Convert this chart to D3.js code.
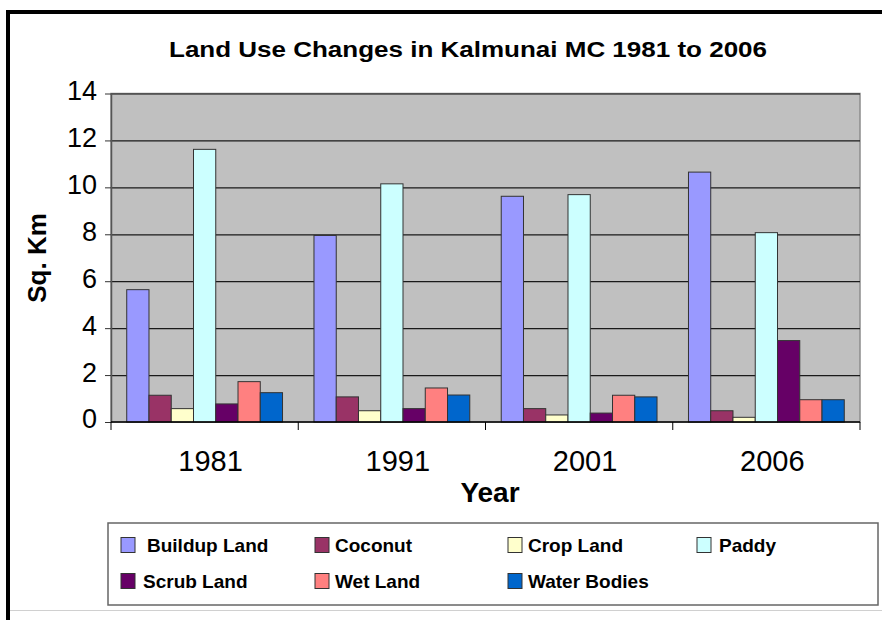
<!DOCTYPE html>
<html>
<head>
<meta charset="utf-8">
<script src="https://cdn.jsdelivr.net/npm/d3@7"></script>
<style>
  body { margin: 0; background: #fff; }
  svg { display: block; font-family: 'Liberation Sans', Arial, sans-serif; }
</style>
</head>
<body>
<figure style="margin:0"></figure>
<script>
const width = 882
const height = 620

// data (sq. km)
const years = ['1981', '1991', '2001', '2006']
const series = ['Buildup Land', 'Coconut', 'Crop Land', 'Paddy', 'Scrub Land', 'Wet Land', 'Water Bodies']
const colors = ['#9999ff', '#993366', '#ffffcc', '#ccffff', '#660066', '#ff8080', '#0066cc']
const buildup = [5.64, 7.95, 9.62, 10.65]
const coconut = [1.14, 1.07, 0.57, 0.48]
const cropLand = [0.57, 0.48, 0.30, 0.20]
const paddy = [11.62, 10.15, 9.69, 8.07]
const scrubLand = [0.77, 0.57, 0.38, 3.47]
const wetLand = [1.72, 1.45, 1.14, 0.95]
const waterBodies = [1.25, 1.15, 1.07, 0.95]
const yTicks = [0, 2, 4, 6, 8, 10, 12, 14]

const values = [buildup, coconut, cropLand, paddy, scrubLand, wetLand, waterBodies]
const rows = years.map((y, i) => ({
  year: y,
  bars: series.map((s, j) => ({ key: s, value: values[j][i], color: colors[j] }))
}))

const plot = { left: 111, right: 860, top: 93.5, bottom: 422 }

const svg = d3.select('figure').append('svg')
  .attr('width', width)
  .attr('height', height)

// outer frame
svg.append('rect')
  .attr('x', 8).attr('y', 12)
  .attr('width', 900).attr('height', 700)
  .attr('fill', 'none')
  .attr('stroke', '#000')
  .attr('stroke-width', 4)

svg.append('line')
  .attr('x1', 10).attr('x2', width)
  .attr('y1', 610.5).attr('y2', 610.5)
  .attr('stroke', '#d0d0d0')

svg.append('text')
  .attr('x', 468).attr('y', 57)
  .attr('text-anchor', 'middle')
  .attr('font-size', 22)
  .attr('font-weight', 'bold')
  .attr('textLength', 598)
  .attr('lengthAdjust', 'spacingAndGlyphs')
  .text('Land Use Changes in Kalmunai MC 1981 to 2006')

const x0 = d3.scaleBand()
  .domain(years)
  .range([plot.left, plot.right])
  .paddingInner(0)
  .paddingOuter(0)

const x1 = d3.scaleBand()
  .domain(series)
  .range([x0.bandwidth() * 0.084, x0.bandwidth() * 0.916])

const y = d3.scaleLinear()
  .domain([0, 14])
  .range([plot.bottom, plot.top])

// plot area
svg.append('rect')
  .attr('x', plot.left).attr('y', plot.top)
  .attr('width', plot.right - plot.left)
  .attr('height', plot.bottom - plot.top)
  .attr('fill', '#c0c0c0')
  .attr('stroke', '#8c8c8c')
  .attr('stroke-width', 1.5)

// gridlines
svg.append('g')
  .attr('transform', `translate(${plot.left},0)`)
  .call(d3.axisLeft(y).tickValues(yTicks.slice(1)).tickSize(-(plot.right - plot.left)).tickFormat(''))
  .call(g => g.select('.domain').remove())
  .call(g => g.selectAll('line').attr('stroke', '#1a1a1a').attr('stroke-width', 1.2))

// bars
const group = svg.append('g').selectAll('g')
  .data(rows)
  .join('g')
  .attr('transform', d => `translate(${x0(d.year)},0)`)

group.selectAll('rect')
  .data(d => d.bars)
  .join('rect')
  .attr('x', d => x1(d.key))
  .attr('y', d => y(d.value))
  .attr('width', x1.bandwidth())
  .attr('height', d => y(0) - y(d.value))
  .attr('fill', d => d.color)
  .attr('stroke', '#333')
  .attr('stroke-width', 1)

// y axis
svg.append('g')
  .attr('transform', `translate(${plot.left},0)`)
  .call(d3.axisLeft(y).tickValues(yTicks).tickSize(6).tickSizeOuter(0).tickPadding(8))
  .call(g => g.select('.domain').attr('stroke', '#555').attr('stroke-width', 1.5))
  .call(g => g.selectAll('line').attr('stroke', '#333'))
  .call(g => g.selectAll('text')
    .attr('font-size', 27)
    .attr('font-family', "'Liberation Sans', Arial, sans-serif")
    .attr('fill', '#000')
    .attr('dy', '0.22em'))

// x axis
svg.append('line')
  .attr('x1', plot.left).attr('x2', plot.right)
  .attr('y1', plot.bottom).attr('y2', plot.bottom)
  .attr('stroke', '#000').attr('stroke-width', 1.5)

const edges = years.map(d => x0(d)).concat([plot.right])
svg.append('g').selectAll('line')
  .data(edges)
  .join('line')
  .attr('x1', d => d).attr('x2', d => d)
  .attr('y1', plot.bottom).attr('y2', plot.bottom + 8)
  .attr('stroke', '#000')

svg.append('g').selectAll('text')
  .data(years)
  .join('text')
  .attr('x', d => x0(d) + x0.bandwidth() / 2 + 6)
  .attr('y', 471)
  .attr('text-anchor', 'middle')
  .attr('font-size', 29)
  .text(d => d)

svg.append('text')
  .attr('x', 490).attr('y', 502)
  .attr('text-anchor', 'middle')
  .attr('font-size', 28)
  .attr('font-weight', 'bold')
  .text('Year')

svg.append('text')
  .attr('transform', 'translate(46,258) rotate(-90)')
  .attr('text-anchor', 'middle')
  .attr('font-size', 26)
  .attr('font-weight', 'bold')
  .text('Sq. Km')

// legend
svg.append('rect')
  .attr('x', 108).attr('y', 523)
  .attr('width', 770).attr('height', 82)
  .attr('fill', '#fff')
  .attr('stroke', '#666')
  .attr('stroke-width', 1.5)

const legendPos = [
  { sx: 121, tx: 147, row: 0 },
  { sx: 315, tx: 335, row: 0 },
  { sx: 508, tx: 528, row: 0 },
  { sx: 697, tx: 719, row: 0 },
  { sx: 121, tx: 143, row: 1 },
  { sx: 315, tx: 335, row: 1 },
  { sx: 508, tx: 528, row: 1 }
]

const item = svg.append('g').selectAll('g')
  .data(series)
  .join('g')
  .attr('transform', (d, i) => `translate(0,${legendPos[i].row * 36})`)

item.append('rect')
  .attr('x', (d, i) => legendPos[i].sx)
  .attr('y', 537.5)
  .attr('width', 14)
  .attr('height', 15)
  .attr('fill', (d, i) => colors[i])
  .attr('stroke', '#333')

item.append('text')
  .attr('x', (d, i) => legendPos[i].tx)
  .attr('y', 552)
  .attr('font-size', 19)
  .attr('font-weight', 'bold')
  .text(d => d)
</script>
</body>
</html>
